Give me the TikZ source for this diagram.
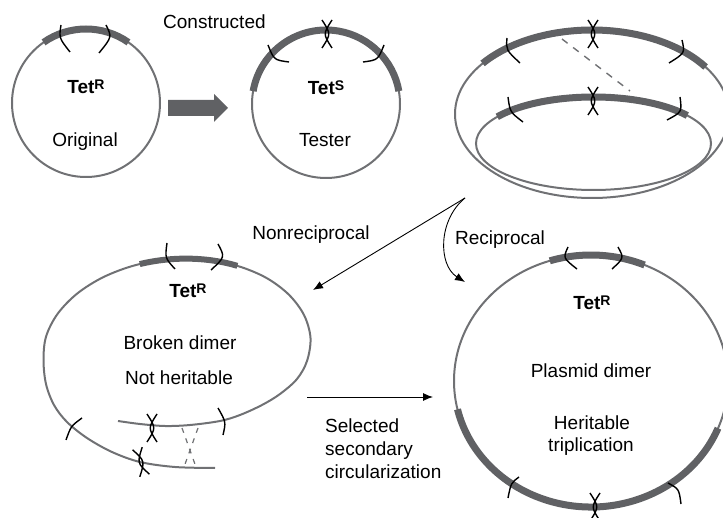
\documentclass[tikz,border=0pt]{standalone}
\usepackage{fontspec}
\setmainfont{Liberation Sans}
\usetikzlibrary{arrows.meta,calc}
\definecolor{outl}{RGB}{112,113,116}
\definecolor{bandc}{RGB}{96,97,100}
\newcommand\mysup[1]{\raisebox{4.5pt}{\fontsize{14}{14}\selectfont #1}}
\begin{document}
\begin{tikzpicture}[x=1pt,y=-1pt,
  outline/.style={draw=outl,line width=2pt},
  band/.style={draw=bandc,line width=7pt},
  tk/.style={draw=black,line width=1.4pt},
  lbl/.style={font=\fontsize{19}{23}\selectfont,inner sep=0pt,anchor=base},
  tet/.style={font=\fontsize{19}{23}\selectfont\bfseries,inner sep=0pt,anchor=base},
  conn/.style={draw=black,line width=0.9pt,-{Latex[length=10pt,width=8pt]}},
  dashg/.style={draw=outl,line width=1.4pt,dash pattern=on 7pt off 7pt},
  dtick/.pic={\draw[tk] (-5,-14) .. controls (4,0) .. (-5,14);
              \draw[tk] (5,-14) .. controls (-4,0) .. (5,14);}
]
\useasboundingbox (0,0) rectangle (723,518);

% ---------------- Original ----------------
\coordinate (oc) at (86,103);
\draw[outline] (oc) circle[radius=74];
\draw[band] ($(oc)+(-125:74)$) arc[start angle=-125,end angle=-55,radius=74];
\draw[tk] (61,25) .. controls (59,38) .. (70,52);
\draw[tk] (106,25) .. controls (112,37) .. (99,53);
\node[tet] (tetO) at (86,94) {Tet\mysup{R}};
\node[lbl] (orig) at (85,146.5) {Original};

% big arrow
\fill[fill=bandc] (168,100) -- (214,100) -- (214,94) -- (228,108) -- (214,122) -- (214,116) -- (168,116) -- cycle;
\node[lbl,anchor=base west] (constr) at (163,29) {Constructed};

% ---------------- Tester ----------------
\coordinate (tc) at (326,104);
\draw[outline] (tc) circle[radius=74];
\draw[band] ($(tc)+(-170:74)$) arc[start angle=-170,end angle=-10,radius=74];
\draw[tk] (268,45) .. controls (274,60) .. (289,62);
\draw[tk] (384,45) .. controls (378,60) .. (363,62);
\pic at (327,34) {dtick};
\node[tet] (tetS) at (326,95) {Tet\mysup{S}};
\node[lbl] (tester) at (325,147) {Tester};

% ---------------- Two ellipses (top right) ----------------
\coordinate (e1) at (592,114);
\coordinate (e2) at (593.5,143.5);
\draw[outline] (e1) ellipse[x radius=137,y radius=84];
\draw[outline] (e2) ellipse[x radius=117.5,y radius=46.5];
\draw[band] ($(e1)+(-143:137 and 84)$) arc[start angle=-143,end angle=-34,x radius=137,y radius=84];
\draw[band] ($(e2)+(-145:117.5 and 46.5)$) arc[start angle=-145,end angle=-37,x radius=117.5,y radius=46.5];
\draw[dashg] (562,39) -- (630,91);
\draw[tk] (507,38) .. controls (506,50) .. (520,63);
\draw[tk] (682,40) .. controls (685,53) .. (669,63);
\pic at (593,34) {dtick};
\draw[tk] (508,97) .. controls (510,112) .. (523,122);
\draw[tk] (680,97) .. controls (682,112) .. (667,120);
\pic at (593,101) {dtick};

% ---------------- arrows ----------------
\coordinate (split) at (465,198);
\coordinate (nrEnd) at (313,290);
\coordinate (rEnd) at (465,282);
\draw[conn] (split) -- (nrEnd);
\draw[conn] (split) .. controls (438,220) and (438,265) .. (rEnd);
\node[lbl] (nonrec) at (311,240) {Nonreciprocal};
\node[lbl] (rec) at (500,245) {Reciprocal};

% ---------------- Broken dimer ----------------
\draw[outline] plot[smooth,tension=0.55] coordinates {
  (118,421) (140,424) (165,426) (190,425) (220,421) (240,415) (262,405)
  (280,394) (297,379) (307,361) (310.5,338) (304.1,315.2) (288.9,294.7)
  (266.2,277.8) (237.4,265.9) (204.5,259.6) (169.6,259.3) (135.3,265.2)
  (103.8,276.9) (77.4,293.4) (57.7,313.7) (46.1,336.4) (43.5,360)
  (46,384) (54,405) (67,422) (87,438) (112,452) (140,462) (175,467) (215,468)};
\begin{scope}[shift={(177,349)},rotate=4.7]
  \draw[band,line width=6pt] (-103:134 and 90) arc[start angle=-103,end angle=-60,x radius=134,y radius=90];
\end{scope}
\draw[tk] (167,243) .. controls (165,258) .. (175,269);
\draw[tk] (218,244) .. controls (225,257) .. (211,270);
\draw[tk] (82,418) .. controls (71,426) .. (66,440);
\draw[tk] (218,408) .. controls (226,422) .. (223,435);
\pic at (152,428) {dtick};
\pic[rotate=15] at (141,462) {dtick};
\draw[dashg,line width=1.2pt,dash pattern=on 5pt off 6pt] (182,428) -- (196,467);
\draw[dashg,line width=1.2pt,dash pattern=on 5pt off 6pt] (198,428) -- (184,467);
\node[tet] (tetB) at (188,298) {Tet\mysup{R}};
\node[lbl] (broken) at (180,350) {Broken dimer};
\node[lbl] (noth) at (179,385) {Not heritable};

% ---------------- selected arrow ----------------
\coordinate (selS) at (307,397);
\coordinate (selE) at (433,397);
\draw[conn] (selS) -- (selE);
\node[lbl,anchor=north west,align=left] (selt) at (325,419) {Selected\\secondary\\circularization};

% ---------------- Plasmid dimer ----------------
\coordinate (pc) at (591,381);
\draw[outline] (pc) ellipse[x radius=137,y radius=126];
\draw[band] ($(pc)+(-107.5:137 and 126)$) arc[start angle=-107.5,end angle=-67,x radius=137,y radius=126];
\draw[band] ($(pc)+(22:137 and 126)$) arc[start angle=22,end angle=167,x radius=137,y radius=126];
\draw[tk] (568,247) .. controls (563,258) .. (577,269);
\draw[tk] (618,247) .. controls (624,258) .. (612,269);
\draw[tk] (519,477) .. controls (511,483) .. (508,498);
\draw[tk] (668,483) .. controls (679,489) .. (681,504);
\pic at (595,507) {dtick};
\node[tet] (tetP) at (592,310) {Tet\mysup{R}};
\node[lbl] (pdim) at (591,378) {Plasmid dimer};
\node[lbl] (herit) at (592,429) {Heritable};
\node[lbl] (tripl) at (591,451) {triplication};
\end{tikzpicture}
\end{document}
